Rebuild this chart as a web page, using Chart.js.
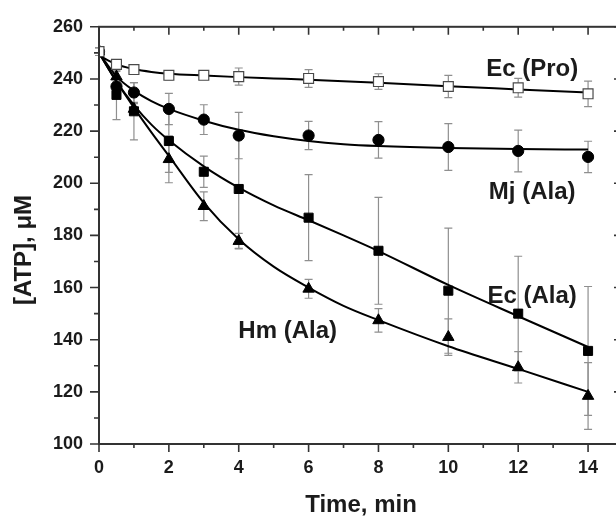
<!DOCTYPE html>
<html>
<head>
<meta charset="utf-8">
<style>
  html, body { margin: 0; padding: 0; background: #fff; overflow: hidden; width: 616px; height: 517px; }
  canvas { display: block; }
</style>
<script src="https://cdn.jsdelivr.net/npm/chart.js@4/dist/chart.umd.min.js"></script>
</head>
<body>
<canvas id="atp" width="640" height="517" style="width:640px;height:517px"></canvas>
<script>
// Sampling times (min)
const times = [0, 0.5, 1, 2, 3, 4, 6, 8, 10, 12, 14];

// Measured [ATP] (uM) and standard deviations
const ecPro    = [250.5, 245.6, 243.6, 241.4, 241.4, 240.9, 240.2, 239.0, 237.1, 236.6, 234.3];
const ecProErr = [1.5, 1.0, 1.0, 1.8, 1.6, 3.3, 3.4, 3.0, 4.3, 3.6, 4.9];

const mjAla    = [250.5, 237.1, 234.8, 228.5, 224.4, 218.3, 218.3, 216.6, 213.9, 212.4, 210.1];
const mjAlaErr = [1.5, 3.0, 3.8, 6.0, 5.7, 8.9, 5.4, 7.0, 9.0, 8.0, 6.0];

const ecAla    = [250.5, 233.9, 227.6, 216.2, 204.4, 197.8, 186.8, 174.1, 158.8, 150.0, 135.7];
const ecAlaErr = [1.5, 9.5, 11.0, 12.0, 6.0, 22.8, 16.5, 20.5, 24.0, 22.0, 24.7];

const hmAla    = [250.5, 240.9, 228.5, 209.2, 191.2, 177.8, 159.5, 147.4, 141.0, 129.4, 118.4];
const hmAlaErr = [1.5, 2.0, 2.0, 9.0, 5.5, 3.0, 3.6, 4.5, 7.0, 6.0, 12.8];

// Fitted decay curves
const fitTimes = [0, 0.5, 1, 1.5, 2, 3, 4, 5, 6, 7, 8, 10, 12, 14];
const ecProFit = [249.0, 245.6, 243.8, 242.7, 242.0, 241.3, 240.7, 240.2, 239.7, 239.1, 238.5, 237.2, 236.0, 234.8];
const mjAlaFit = [250.0, 241.0, 235.5, 231.5, 228.5, 224.0, 220.5, 218.0, 216.2, 215.0, 214.3, 213.5, 213.1, 212.9];
const ecAlaFit = [250.0, 239.0, 230.0, 222.5, 216.5, 206.5, 198.3, 191.5, 185.8, 180.0, 174.0, 161.0, 149.0, 137.2];
const hmAlaFit = [250.0, 239.0, 229.0, 219.5, 210.5, 192.5, 178.5, 168.0, 160.0, 153.0, 147.5, 137.5, 128.8, 120.0];

// Axis ticks
const xTickLabels = [0, 2, 4, 6, 8, 10, 12, 14];
const yTickLabels = [100, 120, 140, 160, 180, 200, 220, 240, 260];

// Series names written next to their curves
const seriesNames = ['Ec (Pro)', 'Mj (Ala)', 'Ec (Ala)', 'Hm (Ala)'];

const pts = (xs, ys) => xs.map((x, i) => ({ x: x, y: ys[i] }));

const INK = '#1b1b1b';
const FONT = '"Liberation Sans", Arial, Helvetica, sans-serif';

// Where each series name sits, in data coordinates
const namePlacement = [
  { x: 12.4, y: 241.3 },
  { x: 12.4, y: 194.1 },
  { x: 12.4, y: 154.2 },
  { x: 5.4,  y: 140.8 }
];

const markerSets = [
  { data: ecPro, err: ecProErr, style: 'rect',     radius: 7.0, fill: '#ffffff', stroke: '#4a4a4a', bw: 1.2 },
  { data: mjAla, err: mjAlaErr, style: 'circle',   radius: 5.6, fill: '#000000', stroke: '#000000', bw: 1 },
  { data: ecAla, err: ecAlaErr, style: 'rect',     radius: 6.4, fill: '#000000', stroke: '#000000', bw: 1 },
  { data: hmAla, err: hmAlaErr, style: 'triangle', radius: 6.6, fill: '#000000', stroke: '#000000', bw: 1 }
];
const fitSets = [ecProFit, mjAlaFit, ecAlaFit, hmAlaFit];

const datasets = [];
markerSets.forEach((m, i) => {
  datasets.push({
    label: seriesNames[i],
    data: pts(times, m.data),
    errors: m.err,
    showLine: false,
    pointStyle: m.style,
    pointRadius: m.radius,
    pointBackgroundColor: m.fill,
    pointBorderColor: m.stroke,
    pointBorderWidth: m.bw,
    order: 0
  });
});
fitSets.forEach((f, i) => {
  datasets.push({
    label: seriesNames[i] + ' fit',
    data: pts(fitTimes, f),
    showLine: true,
    borderColor: '#000000',
    borderWidth: 2,
    pointRadius: 0,
    cubicInterpolationMode: 'monotone',
    fill: false,
    order: 1
  });
});

// Vertical error bars with caps, drawn beneath the markers
const errorBars = {
  id: 'errorBars',
  beforeDatasetsDraw(chart) {
    const { ctx, scales: { x, y } } = chart;
    ctx.save();
    ctx.strokeStyle = '#8f8f8f';
    ctx.lineWidth = 1.2;
    chart.data.datasets.forEach((ds) => {
      if (!ds.errors) return;
      ds.data.forEach((p, j) => {
        const e = ds.errors[j];
        const px = x.getPixelForValue(p.x);
        const yt = y.getPixelForValue(p.y + e);
        const yb = y.getPixelForValue(p.y - e);
        ctx.beginPath();
        ctx.moveTo(px, yt); ctx.lineTo(px, yb);
        ctx.moveTo(px - 4, yt); ctx.lineTo(px + 4, yt);
        ctx.moveTo(px - 4, yb); ctx.lineTo(px + 4, yb);
        ctx.stroke();
      });
    });
    ctx.restore();
  }
};

// Closed frame with major/minor ticks on all four sides, plus titles and series names
const frame = {
  id: 'frame',
  afterDatasetsDraw(chart) {
    const { ctx, chartArea: a, scales: { x, y } } = chart;
    ctx.save();
    ctx.strokeStyle = '#333333';
    ctx.lineWidth = 2;
    ctx.strokeRect(a.left, a.top, a.right - a.left, a.bottom - a.top);

    ctx.lineWidth = 1.6;
    ctx.beginPath();
    for (let t = 0; t <= 15; t += 1) {
      const px = x.getPixelForValue(t);
      const len = xTickLabels.includes(t) ? 8 : 4;
      ctx.moveTo(px, a.bottom); ctx.lineTo(px, a.bottom + len);
      ctx.moveTo(px, a.top);    ctx.lineTo(px, a.top + len);
    }
    for (let v = 100; v <= 260; v += 10) {
      const py = y.getPixelForValue(v);
      const len = yTickLabels.includes(v) ? 9 : 5;
      ctx.moveTo(a.left, py);  ctx.lineTo(a.left - len, py);
      ctx.moveTo(a.right, py); ctx.lineTo(a.right - len, py);
    }
    ctx.stroke();

    ctx.fillStyle = INK;
    ctx.font = 'bold 24px ' + FONT;
    ctx.textAlign = 'center';
    ctx.textBaseline = 'alphabetic';
    seriesNames.forEach((name, i) => {
      const pos = namePlacement[i];
      ctx.fillText(name, x.getPixelForValue(pos.x), y.getPixelForValue(pos.y));
    });

    ctx.fillText('Time, min', (a.left + a.right) / 2, 512);

    ctx.save();
    ctx.translate(24, 250);
    ctx.rotate(-Math.PI / 2);
    ctx.textBaseline = 'middle';
    ctx.fillText('[ATP], \u03bcM', 0, 0);
    ctx.restore();

    ctx.restore();
  }
};

new Chart(document.getElementById('atp'), {
  type: 'scatter',
  data: { datasets: datasets },
  options: {
    responsive: false,
    animation: false,
    devicePixelRatio: 1,
    layout: { padding: { left: 0, top: 23, right: 17, bottom: 0 } },
    plugins: { legend: { display: false }, tooltip: { enabled: false } },
    scales: {
      x: {
        type: 'linear',
        min: 0, max: 15,
        afterFit(s) { s.height = 73; },
        afterBuildTicks(s) { s.ticks = xTickLabels.map(v => ({ value: v })); },
        grid: { display: false, drawTicks: false, tickLength: 0 },
        border: { display: false },
        ticks: { color: INK, font: { family: FONT, size: 18, weight: 'bold' }, padding: 13, maxRotation: 0, autoSkip: false }
      },
      y: {
        type: 'linear',
        min: 100, max: 260,
        afterFit(s) { s.width = 99; },
        afterBuildTicks(s) { s.ticks = yTickLabels.map(v => ({ value: v })); },
        grid: { display: false, drawTicks: false, tickLength: 0 },
        border: { display: false },
        ticks: { color: INK, font: { family: FONT, size: 18, weight: 'bold' }, padding: 16, autoSkip: false }
      }
    }
  },
  plugins: [errorBars, frame]
});
</script>
</body>
</html>
